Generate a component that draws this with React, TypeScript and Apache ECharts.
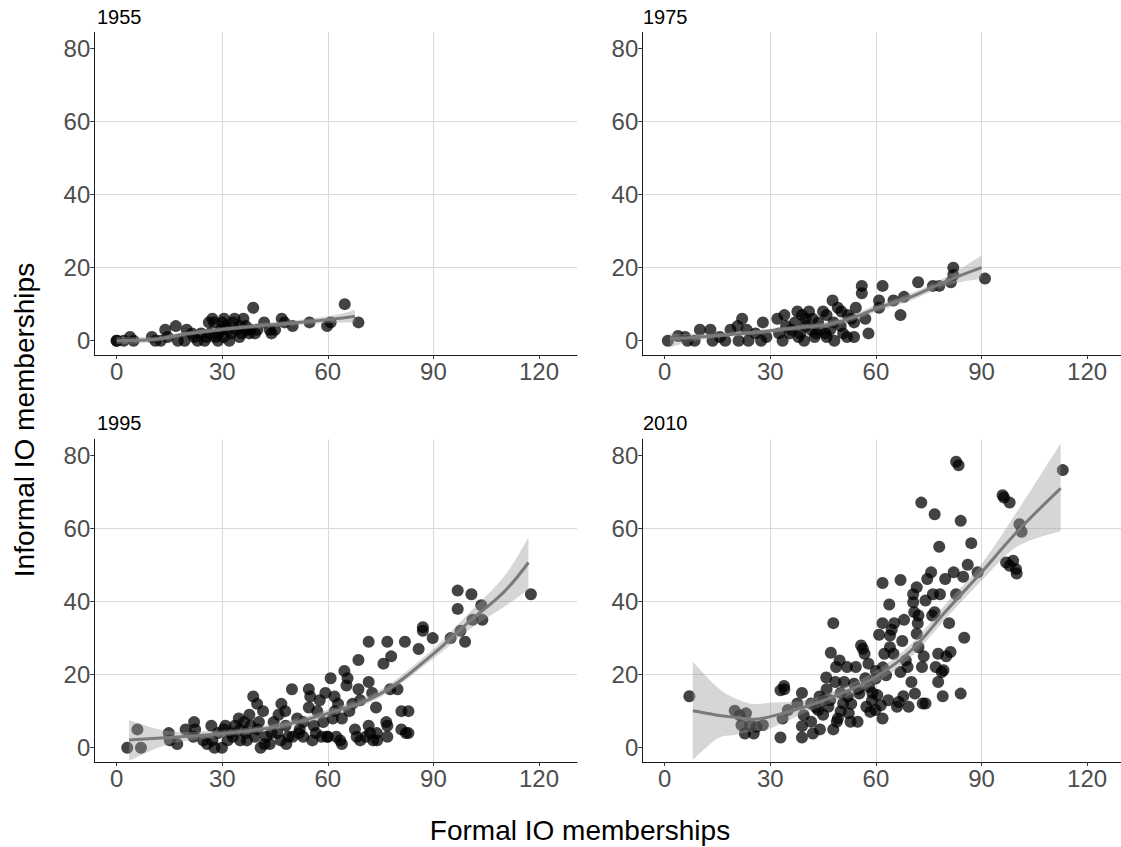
import React, { useEffect, useRef } from "react";
import * as echarts from "echarts";

const years = ["1955", "1975", "1995", "2010"];
const xTicks = [0, 30, 60, 90, 120];
const yTicks = [0, 20, 40, 60, 80];
const xTitle = "Formal IO memberships";
const yTitle = "Informal IO memberships";

const pts1955: number[][] = [
  [0, 0], [0, 0], [2, 0], [3.8, 1], [4.8, 0], [10, 1], [11, 0], [12.5, 0], [13.8, 3], [14.5, 1],
  [16.8, 4], [17.4, 0], [19.3, 0], [19.9, 3], [21.4, 2], [22, 1], [23, 0], [24, 2], [25, 0], [25.6, 1],
  [26.2, 5], [26.5, 2], [27.2, 6], [27.7, 5], [28, 1], [28.8, 0], [29, 2], [29.6, 3], [30, 5], [30.4, 1],
  [30.5, 6], [31, 4], [31.5, 3], [32, 0], [32.5, 2], [33, 5], [33.5, 6], [34, 3], [34.9, 1], [35, 4],
  [35.5, 2], [36, 6], [36.7, 4], [37, 3], [37.7, 2], [38, 3], [38.8, 9], [39.3, 2], [40, 3], [41.9, 5],
  [43.5, 3], [44, 2], [45, 3], [46.9, 6], [47.7, 5], [50, 4], [54.8, 5], [59.8, 4], [60.8, 5], [64.8, 10],
  [68.7, 5],
];

const pts1975: number[][] = [
  [0.9, 0], [3.8, 1.3], [5.8, 1], [6.5, 0], [8.5, 0], [10, 3], [13, 3], [13.6, 0], [15.7, 1], [17.2, 0],
  [18.7, 3], [20.7, 4], [21, 0], [22, 6], [23.3, 3], [23.8, 0], [25.8, 2], [27.4, 0], [27.9, 5], [28.9, 1],
  [32, 6], [32.5, 2], [33.5, 0], [34, 7], [34.5, 4], [35.5, 2], [36, 3], [37, 5], [37.7, 8], [38, 1],
  [38.5, 2], [39, 7], [39.6, 0], [40, 6], [40, 4], [41, 8], [41.6, 3], [42, 6], [42.6, 1], [43, 2],
  [43.6, 5], [44, 3], [45, 8], [45.7, 2], [46, 7], [46, 1], [47, 3], [47.7, 11], [48, 5], [48.2, 0],
  [49.2, 9], [50, 4], [50.2, 8], [50.7, 2], [51.8, 1], [52, 7], [53, 6], [53.8, 1], [53.8, 5], [54.3, 9],
  [56, 15], [56, 13], [57, 6], [57.9, 2], [60.9, 11], [60.9, 9], [61.9, 15], [65, 11], [67, 7], [68, 12],
  [72, 16], [76.2, 15], [78, 15], [81.3, 16], [82, 20], [82, 18], [91, 17],
];

const pts1995: number[][] = [
  [3, 0], [5.9, 5], [6.9, 0], [14.8, 4], [15.1, 2], [17.2, 1], [19.6, 5], [21.8, 3], [22, 7], [22.3, 5],
  [24.6, 2], [25.7, 1], [26.9, 6], [27.2, 2], [27.8, 0], [28.8, 4], [29.9, 0], [30.4, 5], [30.9, 6], [31.5, 2],
  [32.5, 4], [33.6, 6], [34.7, 8], [35.1, 2], [36.2, 7], [36.7, 4], [37.7, 9], [38.8, 14], [39.3, 3], [39.9, 12],
  [40.4, 7], [40.9, 0], [41.6, 10], [42.5, 3], [43.5, 1], [44.6, 7], [45.6, 4], [46.6, 2], [46.8, 12], [47.9, 10],
  [48.2, 1], [48.8, 3], [49.8, 16], [51.3, 8], [51.8, 4], [53, 3], [54.6, 16], [54.6, 11], [55, 14], [55.6, 2],
  [56.6, 4], [57, 10], [57.7, 13], [58.2, 3], [58.7, 7], [59.3, 15], [59.8, 3], [60.8, 19], [61.4, 8], [61.9, 14],
  [62.4, 3], [62.9, 12], [63.5, 2], [64, 8], [64, 1], [64.7, 21], [65.3, 17], [65.6, 19], [66.1, 10], [67.7, 5],
  [68.2, 3], [68.7, 16], [68.7, 24], [69.2, 13], [69.2, 2], [70.8, 3], [71.6, 6], [71.6, 29], [71.6, 18], [72.6, 15],
  [72.9, 2], [73.7, 11], [73.9, 4], [75.8, 23], [76.6, 7], [76.9, 3], [76.9, 29], [76.9, 6], [77.7, 16], [78, 25],
  [79.8, 16], [80.9, 10], [80.9, 5], [81.9, 29], [82.2, 4], [82.9, 10], [82.9, 4], [85.8, 27], [87, 32], [87, 33],
  [89.8, 30], [94.9, 30], [96.9, 43], [96.9, 38], [97.7, 32], [99, 29], [100.8, 42], [101.1, 35], [103.6, 39], [103.9, 35],
  [117.7, 42],
  [33, 3], [35, 5], [37, 2], [38, 6], [40, 5], [42, 1], [44, 4], [46, 9], [48, 6], [50, 3],
  [52, 5], [53, 7], [56, 6], [60, 3], [62, 10], [67, 12], [72, 4], [74, 2],
];

const pts2010: number[][] = [
  [7, 14.1], [19.9, 10.1], [21.3, 8.9], [23.1, 9.4], [21.8, 6.2], [22.8, 3.9], [24.3, 6.2], [25.3, 3.9], [26.1, 5.7], [27.9, 6.2],
  [32.9, 2.8], [32.9, 15.7], [33.9, 16.9], [34, 16], [33.5, 8], [35, 10.3], [39, 15], [37.7, 12.1], [39, 2.8], [39, 5.9],
  [39.5, 8.9], [41.6, 7.1], [42.1, 3.9], [41.6, 12.1], [44.1, 5], [43.6, 10.3], [45.1, 13], [45.9, 19.2], [46.5, 11.2], [47.2, 26],
  [47.9, 34.1], [47.9, 5], [48.5, 18], [48.9, 7.1], [49.2, 8], [48.7, 22.1], [49.7, 23.9], [50.7, 12.1], [51.8, 22.1], [52.3, 9.4],
  [52.8, 7.1], [53.8, 17.5], [54.3, 22.1], [54.8, 7.1], [55.3, 14.8], [55.8, 28], [56.3, 27.1], [56.8, 25.7], [57.3, 11.2], [57.9, 23],
  [58.1, 16.6], [58.4, 9.8], [58.9, 13], [59.9, 18.9], [59.9, 10.3], [60.4, 14.4], [61.4, 11.6], [61.9, 8], [60.9, 30.9], [61.9, 45.1],
  [61.9, 34.1], [62.4, 25.7], [62.9, 19.8], [63.5, 13], [63.8, 39.2], [64, 30.7], [64, 27.5], [64.5, 32.3], [65, 25.7], [65.2, 34.1],
  [66, 11.2], [66.5, 12.5], [67, 45.9], [67, 20.7], [67.5, 29.2], [67.8, 14.1], [68, 35], [68.5, 23.9], [69, 22.1], [69.3, 11.2],
  [70.1, 18], [70.6, 42], [70.6, 39.8], [70.9, 37.1], [71.1, 14.8], [71.6, 43.9], [71.6, 31.2], [71.9, 34.1], [72.1, 36.2], [72.1, 27.5],
  [72.9, 67.1], [73.1, 22.1], [73.3, 12.1], [73.6, 25], [74.1, 40.3], [74.1, 12.1], [74.6, 46.2], [75.7, 48], [76, 36.2], [76.2, 42],
  [76.7, 37.1], [76.7, 63.9], [77, 22.1], [77.7, 25.7], [77.7, 18], [78, 55], [78.2, 42], [78.7, 20.7], [79, 14.1], [79.2, 21.2],
  [79.7, 46.2], [80, 25], [80.8, 34.1], [81.2, 26.2], [82.1, 48], [82.8, 78.3], [83.5, 77.3], [82.8, 42], [84.1, 62.1], [84.1, 14.8],
  [84.8, 46.8], [85.1, 30.1], [86.1, 50.1], [87.1, 56], [88.9, 48], [96, 69.1], [96.4, 68.5], [98, 67.1], [97, 50.7], [98, 49.8],
  [99, 51.2], [99.8, 48.9], [100, 47.7], [100.8, 61.2], [101.4, 59.1], [113.1, 76],
  [44, 14], [46, 16], [50, 15], [51, 18], [53, 12], [55, 16], [57, 19], [59, 15], [60, 21], [62, 22],
  [50, 10], [52, 14], [47, 13], [43, 11], [45, 9],
];

// loess fit and confidence band
const sx1955 = [0, 11, 19.3, 30, 40.3, 50.9, 61.4, 67.7];
const fit1955 = [0, 0.4, 1.8, 3.1, 4.1, 4.9, 5.9, 6.7];
const lo1955 = [-1.0, -0.3, 1.2, 2.5, 3.4, 4.2, 4.9, 5.0];
const hi1955 = [1.0, 1.1, 2.4, 3.7, 4.8, 5.6, 6.9, 8.4];

const sx1975 = [1.5, 10, 20, 30, 40, 46, 54, 60, 70, 80, 90];
const fit1975 = [0.5, 1.0, 1.8, 2.7, 3.8, 4.3, 6.5, 8.8, 12.0, 16.3, 20.0];
const lo1975 = [-1.8, 0.2, 1.2, 2.1, 3.1, 3.5, 5.6, 7.9, 11.0, 15.1, 17.0];
const hi1975 = [2.0, 1.8, 2.4, 3.3, 4.5, 5.1, 7.4, 9.7, 13.0, 17.5, 23.3];

const sx1995 = [3.5, 15, 30, 45, 60, 75, 90, 100, 110, 117];
const fit1995 = [2.1, 2.8, 3.9, 5.7, 9.4, 14.8, 25.7, 34.4, 42.6, 50.7];
const lo1995 = [-3.6, 1.0, 3.0, 4.9, 8.4, 13.9, 24.4, 32.2, 38.5, 43.3];
const hi1995 = [7.5, 4.5, 4.8, 6.6, 10.4, 15.9, 27.1, 36.8, 46.8, 57.5];

const sx2010 = [8, 15, 20, 25, 30, 40, 50, 60, 70, 80, 90, 100, 112.5];
const fit2010 = [10.1, 8.9, 8.3, 7.8, 8.5, 11.2, 14.8, 19.4, 26.6, 37.5, 48.0, 59.0, 71.0];
const lo2010 = [-3.3, 2.5, 3.5, 4.5, 5.3, 9.6, 13.3, 17.8, 24.8, 35.5, 45.7, 55.0, 59.3];
const hi2010 = [23.5, 16.5, 13.5, 12.0, 12.3, 13.0, 16.3, 21.0, 28.4, 39.5, 50.3, 64.5, 83.3];

const panelPts = [pts1955, pts1975, pts1995, pts2010];
const panelSx = [sx1955, sx1975, sx1995, sx2010];
const panelFit = [fit1955, fit1975, fit1995, fit2010];
const panelLo = [lo1955, lo1975, lo1995, lo2010];
const panelHi = [hi1955, hi1975, hi1995, hi2010];

const FONT = "'Liberation Sans', Arial, Helvetica, sans-serif";

// Catmull-Rom smoothing of pixel points (rendering only)
function spline(pts: number[][], n = 12): number[][] {
  const out: number[][] = [];
  const L = pts.length;
  for (let i = 0; i < L - 1; i++) {
    const p0 = pts[Math.max(i - 1, 0)];
    const p1 = pts[i];
    const p2 = pts[i + 1];
    const p3 = pts[Math.min(i + 2, L - 1)];
    for (let s = 0; s < n; s++) {
      const t = s / n;
      const t2 = t * t;
      const t3 = t2 * t;
      const f = (a: number, b: number, c: number, d: number) =>
        0.5 * (2 * b + (-a + c) * t + (2 * a - 5 * b + 4 * c - d) * t2 + (-a + 3 * b - 3 * c + d) * t3);
      out.push([f(p0[0], p1[0], p2[0], p3[0]), f(p0[1], p1[1], p2[1], p3[1])]);
    }
  }
  out.push(pts[L - 1]);
  return out;
}

export default function App() {
  const ref = useRef<HTMLDivElement>(null);
  useEffect(() => {
    document.body.style.margin = "0";
    const chart = echarts.init(ref.current!, null, { renderer: "svg" });

    const gridLeft = [94.3, 642.3, 94.3, 642.3];
    const gridTop = [32.3, 32.3, 439.3, 439.3];
    const gridW = [482.7, 478.7, 482.7, 478.7];
    const gridH = 322.7;
    const xMin = -6.36;
    const xMax = [130.8, 129.64, 130.8, 129.64];
    const yMin = -3.92;
    const yMax = 84.43;

    const grids = years.map((_, i) => ({
      left: gridLeft[i],
      top: gridTop[i],
      width: gridW[i],
      height: gridH,
      containLabel: false,
    }));

    const xAxes = years.map((_, i) => ({
      gridIndex: i,
      type: "value",
      min: xMin,
      max: xMax[i],
      axisLine: { show: true, onZero: false, lineStyle: { color: "#1a1a1a", width: 1 } },
      axisTick: { show: true, length: 4, customValues: xTicks, lineStyle: { color: "#333333", width: 1 } },
      axisLabel: { customValues: xTicks, color: "#4d4d4d", fontSize: 24, fontFamily: FONT, margin: 4 },
      splitLine: { show: true, showMinLine: false, showMaxLine: false, lineStyle: { color: "#d9d9d9", width: 1 } },
    }));

    const yAxes = years.map((_, i) => ({
      gridIndex: i,
      type: "value",
      min: yMin,
      max: yMax,
      axisLine: { show: true, onZero: false, lineStyle: { color: "#1a1a1a", width: 1 } },
      axisTick: { show: true, length: 4, customValues: yTicks, lineStyle: { color: "#333333", width: 1 } },
      axisLabel: { customValues: yTicks, color: "#4d4d4d", fontSize: 24, fontFamily: FONT, margin: 4 },
      splitLine: { show: true, showMinLine: false, showMaxLine: false, lineStyle: { color: "#d9d9d9", width: 1 } },
    }));

    const series: any[] = [];
    years.forEach((_, i) => {
      const sx = panelSx[i];
      const lo = panelLo[i];
      const hi = panelHi[i];
      series.push({
        type: "scatter",
        xAxisIndex: i,
        yAxisIndex: i,
        data: panelPts[i],
        symbolSize: 12,
        itemStyle: { color: "rgba(0,0,0,0.92)" },
        z: 2,
        silent: true,
      });
      series.push({
        type: "custom",
        xAxisIndex: i,
        yAxisIndex: i,
        clip: true,
        silent: true,
        z: 3,
        data: sx.map((x, k) => [x, lo[k], hi[k]]),
        encode: { x: 0, y: [1, 2] },
        renderItem: (params: any, api: any) => {
          if (params.dataIndex !== 0) return null;
          const up = spline(sx.map((x, k) => api.coord([x, hi[k]])));
          const dn = spline(sx.map((x, k) => api.coord([x, lo[k]]))).reverse();
          return {
            type: "polygon",
            shape: { points: up.concat(dn) },
            style: { fill: "rgba(153,153,153,0.4)", stroke: "none" },
          };
        },
      });
      series.push({
        type: "line",
        xAxisIndex: i,
        yAxisIndex: i,
        data: sx.map((x, k) => [x, panelFit[i][k]]),
        smooth: 0.4,
        symbol: "none",
        lineStyle: { color: "#7a7a7a", width: 3 },
        z: 4,
        silent: true,
      });
    });

    const stripPos = [
      [97, 16.5],
      [643, 16.5],
      [97, 423.3],
      [643, 423.3],
    ];

    const graphics: any[] = years.map((y, i) => ({
      type: "text",
      x: stripPos[i][0],
      y: stripPos[i][1],
      style: {
        text: y,
        fontSize: 20,
        fontFamily: FONT,
        fill: "#000000",
        align: "left",
        verticalAlign: "middle",
        textAlign: "left",
        textVerticalAlign: "middle",
      },
    }));
    graphics.push({
      type: "text",
      x: 580,
      y: 830.7,
      style: {
        text: xTitle,
        fontSize: 28,
        fontFamily: FONT,
        fill: "#000000",
        align: "center",
        verticalAlign: "middle",
        textAlign: "center",
        textVerticalAlign: "middle",
      },
    });
    graphics.push({
      type: "text",
      x: 24,
      y: 420,
      rotation: Math.PI / 2,
      style: {
        text: yTitle,
        fontSize: 28,
        fontFamily: FONT,
        fill: "#000000",
        align: "center",
        verticalAlign: "middle",
        textAlign: "center",
        textVerticalAlign: "middle",
      },
    });

    chart.setOption({
      animation: false,
      backgroundColor: "#ffffff",
      grid: grids,
      xAxis: xAxes,
      yAxis: yAxes,
      series,
      graphic: graphics,
    });
    return () => chart.dispose();
  }, []);
  return <div ref={ref} style={{ width: 1121, height: 847 }} />;
}
